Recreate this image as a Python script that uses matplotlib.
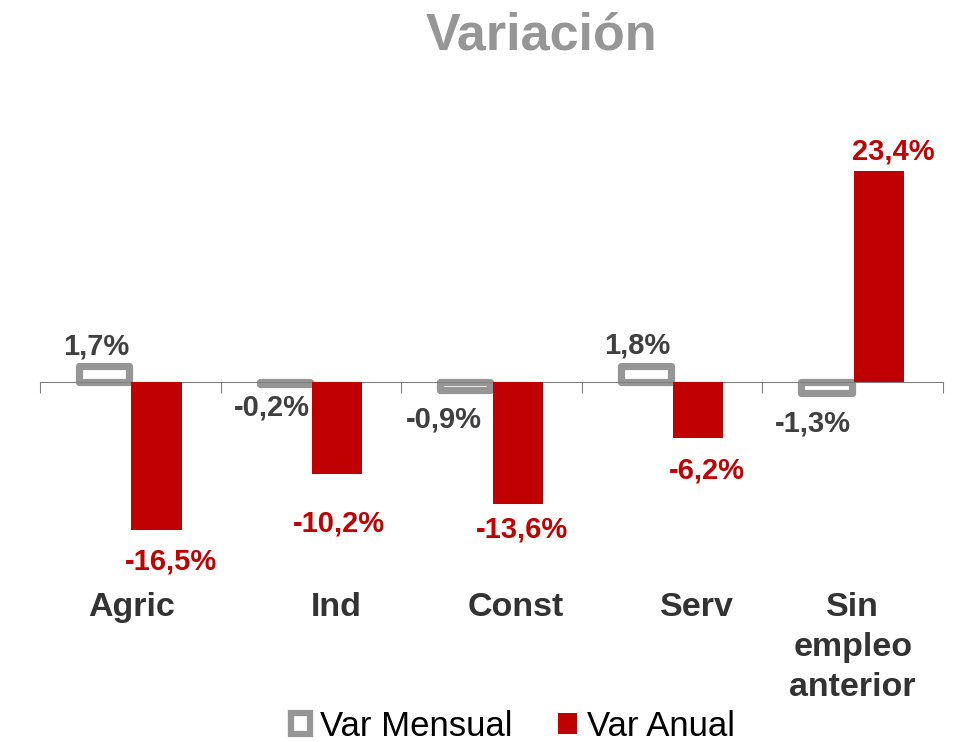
import numpy as np
from matplotlib import pyplot as plt
from matplotlib.patches import Rectangle

plt.rcParams['font.family'] = ['Liberation Sans', 'DejaVu Sans']

categorias = ["Agric", "Ind", "Const", "Serv", "Sin\nempleo\nanterior"]
var_mensual = [1.7, -0.2, -0.9, 1.8, -1.3]
var_anual = [-16.5, -10.2, -13.6, -6.2, 23.4]
etiquetas_mensual = ["1,7%", "-0,2%", "-0,9%", "1,8%", "-1,3%"]
etiquetas_anual = ["-16,5%", "-10,2%", "-13,6%", "-6,2%", "23,4%"]

# label offsets in pixels (manual placement as in the original)
off_mensual = [(-8, 20), (-13, -24), (-21, -30), (-9, 20), (-14, -30)]
off_anual = [(15, -31), (2, -50), (4, -25), (9, -33), (14, 19)]
off_cat = [1, 25, 24, 25, 0]

gris = '#969696'
rojo = '#C00000'
texto = '#404040'

fig = plt.figure(figsize=(9.63, 7.42), dpi=100)
ax = fig.add_axes([40/963, 0.2426, 903/963, 0.5465])

x = np.arange(len(categorias))
w = 0.277
ax.bar(x - 0.145, var_mensual, w, color='white', edgecolor=gris,
       linewidth=5.2, joinstyle='round', zorder=2)
ax.bar(x + 0.145, var_anual, w, color=rojo, zorder=3)

for i in range(len(x)):
    ax.annotate(etiquetas_mensual[i], (x[i] - 0.145, var_mensual[i]),
                xytext=off_mensual[i], textcoords='offset pixels',
                ha='center', va='center', fontsize=21, fontweight='bold', color=texto)
    ax.annotate(etiquetas_anual[i], (x[i] + 0.145, var_anual[i]),
                xytext=off_anual[i], textcoords='offset pixels',
                ha='center', va='center', fontsize=21, fontweight='bold', color=rojo)
    ax.annotate(categorias[i], (x[i], 150), xycoords=('data', 'figure pixels'),
                xytext=(off_cat[i], 0), textcoords='offset pixels',
                ha='center', va='top', fontsize=24.5, fontweight='bold',
                color='#333333', linespacing=1.38, annotation_clip=False)

ax.set_xlim(-0.5, 4.5)
ax.set_ylim(-20, 25)
for s in ['top', 'right', 'left']:
    ax.spines[s].set_visible(False)
ax.spines['bottom'].set_position(('data', 0))
ax.spines['bottom'].set_color('#808080')
ax.set_yticks([])
ax.set_xticks(np.arange(-0.5, 5, 1))
ax.set_xticklabels([])
ax.tick_params(axis='x', direction='out', length=8, color='#808080')

fig.text(541/963, 1 - 36/742, "Variación", ha='center', va='center',
         fontsize=37.5, fontweight='bold', color=gris)

h1 = Rectangle((0, 0), 1, 1, facecolor='white', edgecolor=gris, linewidth=4.5)
h2 = Rectangle((0, 0), 1, 1, facecolor=rojo)
fig.legend([h1, h2], ["Var Mensual", "Var Anual"], loc='center',
           bbox_to_anchor=(513/963, 1 - 726/742), ncol=2, frameon=False,
           fontsize=25, handlelength=0.55, handleheight=0.55, handletextpad=0.3,
           columnspacing=1.3, borderpad=0)

fig.savefig("out.png", dpi=100)
